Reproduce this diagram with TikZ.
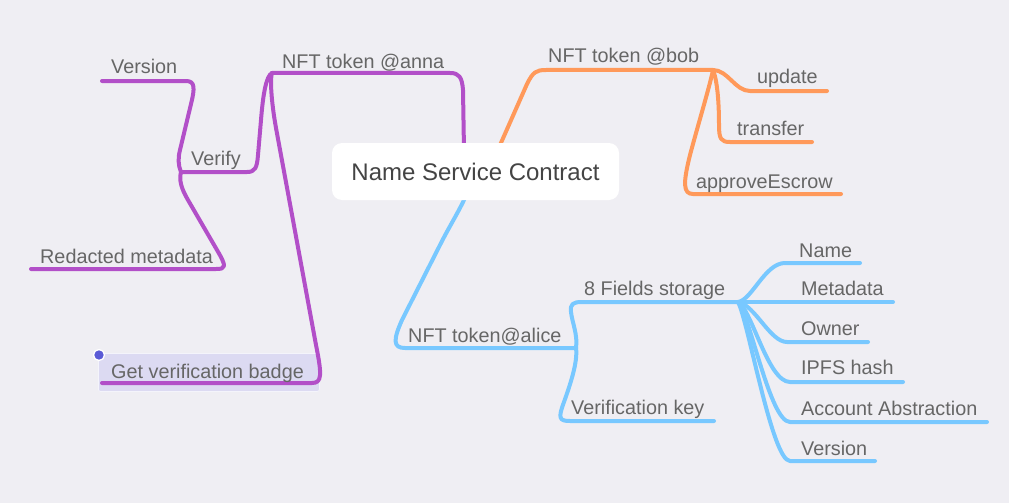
\documentclass[tikz,border=0pt]{standalone}
\usepackage{fontspec}
\setmainfont{Liberation Sans}
\usetikzlibrary{backgrounds}
\definecolor{cbg}{HTML}{EFEEF3}
\definecolor{cpur}{HTML}{B24FC8}
\definecolor{cora}{HTML}{FF995A}
\definecolor{cblu}{HTML}{78C8FF}
\definecolor{ctext}{HTML}{666666}
\definecolor{ccentral}{HTML}{444444}
\definecolor{cbadge}{HTML}{DCDAF2}
\definecolor{cdot}{HTML}{5A5AD6}
\begin{document}
\begin{tikzpicture}[x=1pt,y=-1pt,
  conn/.style={line width=4pt,line cap=round,line join=round},
  pur/.style={conn,draw=cpur},
  ora/.style={conn,draw=cora},
  blu/.style={conn,draw=cblu},
  lbl/.style={anchor=base west,inner sep=0pt,text=ctext,font=\fontsize{19.8}{24}\selectfont},
  rootbox/.style={rounded corners=10pt,fill=white,minimum width=287pt,minimum height=57pt,text=ccentral,font=\fontsize{24}{28}\selectfont},
  badgebox/.style={anchor=north west,fill=cbadge,draw=white!70!cbadge,line width=0.8pt,rounded corners=2pt,minimum width=221pt,minimum height=38pt,inner sep=0pt},
  seldot/.style={circle,fill=cdot,draw=white,line width=1.3pt,minimum size=11pt,inner sep=0pt}]
\useasboundingbox (0,0) rectangle (1009,503);

% central node
\node[rootbox] (root) at (475.5,171.5) {Name Service Contract};

% line end coordinates
\coordinate (annaL) at (272,73);
\coordinate (verifyL) at (181,172);
\coordinate (versionL) at (102,81);
\coordinate (redL) at (31,269);
\coordinate (badgeL) at (102,383);
\coordinate (bobR) at (713,70);
\coordinate (updR) at (827,91);
\coordinate (trR) at (812,142);
\coordinate (apR) at (841,194);
\coordinate (aliceR) at (576,348);
\coordinate (fieldsR) at (738,302);
\coordinate (vkR) at (714,421);
\coordinate (nameR) at (860,263);
\coordinate (metaR) at (893,302);
\coordinate (ownerR) at (868,342);
\coordinate (ipfsR) at (903,382);
\coordinate (accR) at (987,422);
\coordinate (verR) at (875,461);

\begin{pgfonlayer}{background}
\fill[cbg] (0,0) rectangle (1009,503);
\node[badgebox] (badgebg) at (98,353) {};

% purple branch
\draw[pur] ([xshift=-11.5pt,yshift=-8pt]root.north) -- (463,90) .. controls (462,77) and (459,73) .. (450,73) -- (annaL);
\draw[pur] (annaL) .. controls (266,76) and (263,95) .. (261,120) -- (258,155) .. controls (257,168) and (255,172) .. (247,172) -- (verifyL);
\draw[pur] (annaL) .. controls (270,78) and (271,100) .. (276,128) -- (316,345) .. controls (322,375) and (322,383) .. (312,383) -- (badgeL);
\draw[pur] (verifyL) .. controls (178,165) and (178,158) .. (180,150) -- (191,104) .. controls (195,88) and (195,81) .. (186,81) -- (versionL);
\draw[pur] (verifyL) .. controls (179,180) and (181,188) .. (188,200) -- (217,250) .. controls (227,267) and (226,269) .. (216,269) -- (redL);

% orange branch
\draw[ora] ([xshift=22pt,yshift=-8pt]root.north) -- (527,84) .. controls (533,72) and (536,70) .. (546,70) -- (bobR);
\draw[ora] (bobR) .. controls (728,70) and (735,91) .. (750,91) -- (updR);
\draw[ora] (bobR) .. controls (717,80) and (719,100) .. (719,125) .. controls (719,139) and (721,142) .. (730,142) -- (trR);
\draw[ora] (bobR) .. controls (710,85) and (698,125) .. (690,155) .. controls (683,183) and (683,194) .. (693,194) -- (apR);

% blue branch
\draw[blu] ([xshift=-8pt,yshift=8pt]root.south) .. controls (460,210) and (450,225) .. (440,245) -- (402,320) .. controls (393,340) and (393,348) .. (405,348) -- (aliceR);
\draw[blu] (aliceR) .. controls (578,335) and (572,322) .. (571,312) .. controls (570,304) and (573,302) .. (582,302) -- (fieldsR);
\draw[blu] (aliceR) .. controls (578,362) and (570,385) .. (564,402) .. controls (558,418) and (559,421) .. (570,421) -- (vkR);
\draw[blu] (fieldsR) .. controls (752,300) and (765,263) .. (785,263) -- (nameR);
\draw[blu] (fieldsR) -- (metaR);
\draw[blu] (fieldsR) .. controls (755,305) and (770,342) .. (787,342) -- (ownerR);
\draw[blu] (fieldsR) .. controls (752,310) and (768,382) .. (790,382) -- (ipfsR);
\draw[blu] (fieldsR) .. controls (750,315) and (770,422) .. (790,422) -- (accR);
\draw[blu] (fieldsR) .. controls (748,320) and (772,461) .. (790,461) -- (verR);
\end{pgfonlayer}

\node[seldot] (dot) at (99,355) {};

% labels
\node[lbl] (lanna) at (282,68) {NFT token @anna};
\node[lbl] (lversionP) at (111,74) {Version};
\node[lbl] (lverify) at (191,165) {Verify};
\node[lbl] (lred) at (40,263) {Redacted metadata};
\node[lbl] (lbadge) at (111,378) {Get verification badge};
\node[lbl] (lbob) at (548,63) {NFT token @bob};
\node[lbl] (lupd) at (757,84) {update};
\node[lbl] (ltr) at (737,135) {transfer};
\node[lbl] (lap) at (696,188) {approveEscrow};
\node[lbl] (lalice) at (408,342) {NFT token@alice};
\node[lbl] (lfields) at (584,295) {8 Fields storage};
\node[lbl] (lvk) at (571,414) {Verification key};
\node[lbl] (lname) at (799,257) {Name};
\node[lbl] (lmeta) at (801,295) {Metadata};
\node[lbl] (lowner) at (801,335) {Owner};
\node[lbl] (lipfs) at (801,374) {IPFS hash};
\node[lbl] (lacc) at (801,415) {Account Abstraction};
\node[lbl] (lver) at (801,455) {Version};
\end{tikzpicture}
\end{document}
